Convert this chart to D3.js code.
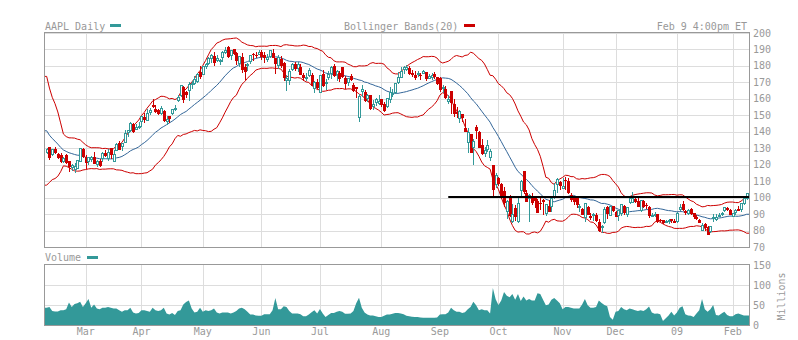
<!DOCTYPE html>
<html><head><meta charset="utf-8">
<script src="https://cdn.jsdelivr.net/npm/d3@7"></script>
<style>
body{margin:0;background:#fff}
svg{display:block}
text{font-family:"DejaVu Sans Mono",monospace;font-size:10px;fill:#999999}
</style>
</head><body>
<svg id="chart" width="798" height="340"></svg>
<script>
// ---------------- DATA ----------------
const firstDay = "2008-02-11";
const lastDay = "2009-02-09";
const holidays = ["2008-02-18","2008-03-21","2008-05-26","2008-07-04","2008-09-01","2008-11-27","2008-12-25","2009-01-01","2009-01-19"];
// closes of the 19 sessions before the first shown day (needed for the 20-day bands)
const priorCloses = [178.78,169.04,159.64,160.89,161.36,155.64,139.07,135.60,130.01,130.01,131.54,132.18,135.36,133.75,131.65,129.36,122.00,121.24,125.48];

const open = [
128.0,130.7,126.7,129.4,126.3,126.0,122.2,126.1,122.5,118.6,117.6,118.2,122.5,129.3,
124.4,122.0,123.6,124.6,120.4,122.0,124.1,127.0,124.1,129.9,122.1,129.2,133.1,131.1,134.0,140.0,140.9,145.0,141.8,143.3,
146.3,148.8,147.1,152.2,156.1,153.6,153.3,151.1,152.7,146.8,149.4,151.7,154.2,159.1,162.2,167.4,164.1,165.3,169.0,169.8,171.1,176.2,
175.0,180.2,181.9,184.7,186.1,183.8,183.2,185.2,188.6,191.2,186.8,190.1,187.9,181.8,185.7,179.3,180.8,182.8,187.4,186.8,187.5,
188.6,186.9,184.0,186.3,188.0,184.8,180.5,184.3,181.5,171.6,171.3,178.1,181.1,178.6,179.4,174.7,172.4,174.6,174.5,166.5,170.2,
164.2,175.2,169.6,173.2,175.4,180.2,174.9,175.5,179.2,172.5,170.5,174.1,168.5,166.9,149.0,165.0,164.3,160.4,162.3,155.4,157.8,157.5,
159.9,156.6,155.4,160.0,162.7,163.9,170.1,173.5,178.0,178.3,179.0,175.6,174.5,174.8,174.5,175.8,176.2,172.8,173.3,175.3,173.0,
172.4,166.8,165.9,158.6,164.6,156.9,152.3,148.2,150.9,142.0,133.9,138.5,130.6,142.6,139.9,131.9,127.3,129.8,124.9,119.6,108.3,
111.9,108.0,104.0,92.0,100.5,85.9,93.4,85.7,104.6,116.3,103.0,99.8,99.5,99.8,98.0,96.9,98.6,90.4,95.1,95.1,100.1,108.5,109.5,
105.9,111.0,110.0,101.8,100.3,100.4,94.1,93.3,88.5,94.3,89.0,89.5,89.5,85.2,82.0,85.2,94.0,89.6,94.8,
91.3,89.7,90.5,94.9,90.0,97.3,97.6,98.9,97.8,92.2,97.8,95.5,94.6,89.4,89.6,89.9,86.6,86.2,85.6,86.0,86.8,85.9,
85.9,93.2,96.0,91.8,90.4,93.2,90.5,88.2,86.3,80.6,84.2,81.9,79.8,88.0,86.8,88.9,90.0,92.3,93.6,92.7,
89.1,91.0,93.0,92.8,96.8,100.0];

const high = [
130.0,131.0,129.8,130.8,127.1,126.8,124.6,126.5,122.5,120.2,121.1,123.1,130.0,130.2,
126.0,124.9,125.1,127.5,123.0,123.2,127.5,128.7,129.5,130.3,128.8,133.0,134.3,133.3,140.9,141.2,145.7,145.3,144.7,145.7,
149.7,151.2,153.6,154.7,159.7,156.5,153.9,155.4,153.3,149.3,149.7,154.1,156.0,162.3,168.5,168.0,164.8,170.0,171.1,173.8,175.7,180.0,
180.0,181.9,185.3,187.1,188.2,186.5,184.3,188.9,191.5,192.2,189.9,190.3,188.7,186.2,188.0,181.3,182.0,186.5,188.0,188.2,189.5,
189.7,188.2,187.1,189.8,190.0,184.9,186.8,186.0,182.6,174.2,177.9,182.0,182.2,182.3,181.0,175.9,175.8,178.8,175.6,170.6,172.0,
174.7,177.5,172.2,177.1,179.7,180.9,177.3,177.1,179.3,173.7,172.9,175.0,169.7,167.5,162.8,168.4,165.3,163.0,162.5,159.5,160.5,162.2,
160.0,157.9,160.8,167.4,166.2,169.7,176.5,179.3,180.0,180.5,179.8,177.8,177.1,176.9,175.5,177.5,176.2,174.9,175.8,176.3,173.5,
173.5,168.7,167.9,162.4,164.9,160.0,155.0,153.0,150.9,147.7,142.5,138.5,135.4,144.2,140.3,135.8,131.0,134.8,129.8,119.7,115.0,
112.4,108.8,106.5,98.8,101.5,96.3,95.8,100.0,110.5,116.4,104.4,102.5,102.7,99.9,99.2,99.9,99.0,96.0,98.5,100.0,109.0,112.0,110.2,
111.8,112.4,111.7,102.8,100.4,100.9,96.2,93.5,96.5,95.0,90.4,90.5,90.5,86.9,83.5,94.5,95.0,95.2,95.0,
92.0,92.7,96.0,95.4,94.3,100.7,103.6,99.7,99.6,98.6,98.3,96.9,94.9,90.9,91.5,90.0,87.3,86.2,86.3,86.9,87.0,86.9,
91.0,96.2,98.0,92.5,93.0,93.4,90.9,89.5,86.8,84.3,84.6,82.6,82.9,90.0,89.9,90.9,91.4,94.5,94.3,93.1,
90.9,92.9,95.0,97.0,100.0,103.0];

const low = [
127.2,123.6,125.6,127.0,124.1,121.4,121.7,120.9,115.9,116.7,115.4,118.1,122.5,124.8,
118.0,120.4,122.3,120.8,119.1,119.1,122.0,125.2,123.0,124.2,122.0,128.7,129.6,129.2,133.6,137.4,140.6,140.0,141.6,142.5,
143.6,145.9,147.0,150.8,155.1,152.3,150.5,150.6,146.4,144.5,145.7,150.6,153.4,158.4,161.8,158.1,161.1,159.2,166.4,169.1,170.3,172.9,
174.9,178.6,181.1,182.2,180.5,183.1,181.4,182.9,187.9,185.6,184.2,187.0,181.3,180.1,176.3,172.0,177.8,181.8,183.7,185.5,187.4,
184.5,182.3,183.2,185.7,185.6,175.8,179.0,179.6,171.2,165.3,169.1,177.4,177.4,176.8,175.0,171.6,171.6,173.9,168.2,164.4,166.6,
164.0,168.1,165.8,171.9,172.7,174.1,171.4,171.0,173.1,166.4,168.6,171.4,165.0,161.1,146.5,161.6,158.5,158.7,154.0,153.7,156.1,157.0,
155.8,152.9,154.8,158.0,161.5,163.8,169.7,173.5,175.9,177.8,175.1,173.8,171.8,173.6,171.9,175.6,171.7,172.6,172.2,172.8,169.0,
165.0,164.0,160.8,157.7,151.5,149.8,148.8,146.0,146.5,140.3,127.6,127.8,120.7,136.3,130.7,126.7,125.2,128.5,123.0,100.6,106.3,
107.4,100.0,94.7,87.5,89.0,85.0,86.6,85.0,101.0,103.1,98.0,85.5,96.0,94.3,91.0,93.2,90.0,89.5,91.9,91.9,99.6,103.6,105.1,
105.9,105.5,103.1,98.1,96.0,94.5,92.0,90.0,86.0,90.0,87.0,86.3,86.0,80.0,79.1,84.6,87.5,89.5,91.9,
88.9,86.2,89.5,90.0,89.0,96.6,97.1,97.2,94.8,92.0,94.5,93.5,88.4,88.6,89.0,85.2,85.6,84.8,84.9,84.7,85.0,85.0,
85.2,92.7,92.2,90.3,90.0,90.1,87.9,86.8,84.9,80.1,80.1,78.2,79.3,86.0,86.5,88.6,89.6,91.6,92.4,89.9,
88.8,90.2,92.4,92.0,96.2,99.0];

const close = [
129.45,124.86,129.40,127.46,124.63,122.18,123.82,121.54,119.46,119.74,119.15,122.96,129.91,125.02,
121.73,124.62,124.49,120.93,122.25,119.69,127.35,126.03,127.94,126.61,126.73,132.82,129.67,133.27,139.53,140.98,145.06,140.25,143.01,143.50,
149.53,147.49,151.61,153.08,155.89,152.84,151.44,154.55,147.14,147.78,148.38,153.70,154.49,161.04,168.16,160.20,162.89,168.94,169.73,172.24,175.05,173.95,
180.00,180.94,184.73,186.66,182.59,185.06,183.45,188.16,189.96,186.26,189.73,187.62,183.60,185.90,178.19,177.05,181.17,186.43,187.01,186.69,188.75,
186.10,185.37,185.19,189.43,185.64,181.61,185.64,180.81,173.26,172.37,176.84,181.43,178.75,180.90,175.27,173.16,173.25,177.39,168.26,170.09,167.44,
174.68,168.18,170.12,175.16,179.55,174.25,176.63,172.58,173.88,169.64,172.81,171.81,165.15,166.29,162.02,166.26,159.03,162.12,154.40,157.08,159.88,158.95,
156.66,153.23,160.64,164.19,163.57,169.55,173.56,176.73,179.30,179.32,175.74,175.39,173.53,175.84,174.29,176.79,172.55,173.64,174.67,173.74,169.53,
166.19,166.96,161.22,160.18,157.92,151.68,151.61,152.65,148.94,140.36,139.88,127.83,134.09,140.91,131.05,126.84,128.71,131.93,128.24,105.26,113.66,
109.12,100.10,97.07,98.14,89.16,89.79,88.74,96.80,110.26,104.08,97.95,101.89,97.40,98.44,91.49,96.87,98.23,96.38,92.09,99.91,104.55,111.04,107.59,
106.96,110.99,103.30,99.10,98.24,95.88,94.77,90.12,96.44,90.24,88.14,89.91,86.29,80.49,82.58,92.95,90.80,95.00,92.67,
88.93,92.47,95.90,91.41,94.00,99.72,100.06,98.21,95.00,98.27,94.75,95.43,89.16,89.43,90.00,85.74,86.38,85.04,85.81,86.61,86.29,85.35,
90.75,94.58,93.02,91.01,92.70,90.58,88.66,87.71,85.33,83.38,82.33,78.20,82.83,88.36,88.36,89.64,90.73,94.20,93.00,90.13,
90.76,92.77,92.68,96.46,99.72,102.51];

// volume, millions of shares
const volume = [
44,46,36,35,35,38,38,40,57,46,53,55,59,46,
55,66,44,52,42,40,44,44,46,44,42,42,38,34,38,38,44,32,30,31,
38,38,36,34,44,38,36,38,44,30,27,31,26,36,38,52,58,62,42,32,34,44,
34,38,36,38,42,32,30,32,32,32,30,32,36,42,44,40,34,27,27,25,24,
24,28,28,28,38,68,40,40,48,46,36,30,30,30,28,23,23,27,33,38,30,
41,30,21,26,31,31,34,36,34,29,29,30,36,55,69,44,32,27,25,25,23,21,
21,24,27,27,29,31,31,30,28,24,23,22,21,21,20,19,19,19,19,19,20,
27,28,28,32,44,38,34,34,31,33,40,46,59,50,38,40,38,38,30,93,65,
51,62,83,74,70,78,64,78,61,72,62,66,62,62,80,78,64,50,52,64,68,62,55,
40,46,46,44,42,42,42,52,66,50,44,44,46,62,56,51,48,21,14,
34,36,46,40,38,42,40,38,36,38,36,40,47,32,29,30,28,11,18,25,34,25,
32,44,48,28,25,24,21,30,38,66,40,34,40,51,26,25,30,34,26,23,
23,28,30,27,25,25];

const priceTicks = [200,190,180,170,160,150,140,130,120,110,100,90,80,70];
const volumeTicks = [150,100,50,0];
const monthLabels = ["Mar","Apr","May","Jun","Jul","Aug","Sep","Oct","Nov","Dec","09","Feb"];
const trendLine = {from:"2008-09-05", value:100.3};
const bandPeriod = 20;

// ---------------- BUILD ----------------
const parse = d3.utcParse("%Y-%m-%d");
const fmt = d3.utcFormat("%Y-%m-%d");
const holidaySet = new Set(holidays);
const dates = d3.utcDay.range(parse(firstDay), d3.utcDay.offset(parse(lastDay),1))
  .filter(d => d.getUTCDay() > 0 && d.getUTCDay() < 6 && !holidaySet.has(fmt(d)));

const data = dates.map((d,i) => ({i, date:d, o:open[i], h:high[i], l:low[i], c:close[i], v:volume[i]}));
const allClose = priorCloses.concat(close);
data.forEach((d,i) => {
  const win = allClose.slice(i, i + bandPeriod);
  const m = d3.mean(win);
  const sd = Math.sqrt(d3.mean(win, v => (v-m)*(v-m)));
  d.mid = m; d.up = m + 2*sd; d.dn = m - 2*sd;
});

const C = {teal:"#339999", red:"#cc0000", blue:"#336699", grid:"#dddddd", frame:"#999999"};
const L = 44, R = 749;
const mainTop = 32, mainBot = 247;
const volTop = 264, volBot = 325;

const svg = d3.select("#chart");
const N = data.length;
const x = d3.scaleLinear().domain([0, N-1]).range([46.66, 746.65]);
const y = d3.scaleLinear().domain([70,200]).range([247, 33]);
const yv = d3.scaleLinear().domain([0,150]).range([325.5, 265]);

const defs = svg.append("defs");
defs.append("clipPath").attr("id","clipMain").append("rect").attr("x",L).attr("y",mainTop).attr("width",R-L).attr("height",mainBot-mainTop);
defs.append("clipPath").attr("id","clipVol").append("rect").attr("x",L).attr("y",volTop).attr("width",R-L).attr("height",volBot-volTop);

const monthIdx = data.filter((d,i) => i>0 && d.date.getUTCMonth() !== data[i-1].date.getUTCMonth()).map(d => d.i);
const px = v => Math.round(v) + 0.5;

// grid main
const gMain = svg.append("g");
gMain.selectAll(".hg").data(priceTicks).join("line")
  .attr("x1",L).attr("x2",R).attr("y1",d=>px(y(d))).attr("y2",d=>px(y(d)))
  .attr("stroke",C.grid);
gMain.selectAll(".vg").data(monthIdx).join("line")
  .attr("x1",d=>px(x(d))).attr("x2",d=>px(x(d))).attr("y1",mainTop).attr("y2",mainBot)
  .attr("stroke",C.grid);

// grid volume
const gVol = svg.append("g");
gVol.selectAll(".hg").data(volumeTicks.filter(t=>t>0 && t<150)).join("line")
  .attr("x1",L).attr("x2",R).attr("y1",d=>px(yv(d))).attr("y2",d=>px(yv(d)))
  .attr("stroke",C.grid);
gVol.selectAll(".vg").data(monthIdx).join("line")
  .attr("x1",d=>px(x(d))).attr("x2",d=>px(x(d))).attr("y1",volTop).attr("y2",volBot)
  .attr("stroke",C.grid);

// bands (extended to the panel edges with the end values)
const ext = [Object.assign({}, data[0], {i: x.invert(L)})].concat(data, [Object.assign({}, data[N-1], {i: x.invert(R)})]);
const plot = svg.append("g").attr("clip-path","url(#clipMain)");
const lineOf = key => d3.line().x(d=>x(d.i)).y(d=>y(d[key]));
plot.append("path").attr("d", lineOf("up")(ext)).attr("fill","none").attr("stroke",C.red).attr("stroke-width",1);
plot.append("path").attr("d", lineOf("dn")(ext)).attr("fill","none").attr("stroke",C.red).attr("stroke-width",1);
plot.append("path").attr("d", lineOf("mid")(ext)).attr("fill","none").attr("stroke",C.blue).attr("stroke-width",1);

// candles
const cg = plot.append("g");
data.forEach(d => {
  const cx = Math.round(x(d.i));
  const up = d.c >= d.o;
  const col = up ? C.teal : C.red;
  cg.append("line").attr("x1",cx+0.5).attr("x2",cx+0.5)
    .attr("y1",Math.round(y(d.h))).attr("y2",Math.round(y(d.l))+1)
    .attr("stroke",col).attr("stroke-width",1);
  const top = Math.round(y(Math.max(d.o,d.c)));
  const bot = Math.round(y(Math.min(d.o,d.c)));
  if (up) {
    cg.append("rect").attr("x",cx-0.5).attr("y",top+0.5).attr("width",2).attr("height",Math.max(1,bot-top))
      .attr("fill","#fff").attr("stroke",col).attr("stroke-width",1);
  } else {
    cg.append("rect").attr("x",cx-1).attr("y",top).attr("width",3).attr("height",Math.max(1,bot-top+1))
      .attr("fill",col);
  }
});

// horizontal reference line
const tIdx = data.findIndex(d => fmt(d.date) === trendLine.from);
plot.append("line").attr("x1",x(tIdx)).attr("x2",R).attr("y1",y(trendLine.value)).attr("y2",y(trendLine.value))
  .attr("stroke","#000").attr("stroke-width",2);

// volume area
const vplot = svg.append("g").attr("clip-path","url(#clipVol)");
vplot.append("path").attr("d", d3.area().x(d=>x(d.i)).y0(yv(0)).y1(d=>yv(d.v))(ext)).attr("fill",C.teal);

// frames
svg.append("rect").attr("x",L+0.5).attr("y",mainTop+0.5).attr("width",R-L).attr("height",mainBot-mainTop)
  .attr("fill","none").attr("stroke",C.frame);
svg.append("rect").attr("x",L+0.5).attr("y",volTop+0.5).attr("width",R-L).attr("height",volBot-volTop)
  .attr("fill","none").attr("stroke",C.frame);

// right axis labels
svg.append("g").selectAll("text").data(priceTicks).join("text")
  .attr("x",753).attr("y",d=>y(d)).attr("dy","0.35em").text(d=>d);
svg.append("g").selectAll("text").data(volumeTicks).join("text")
  .attr("x",753).attr("y",d=>yv(d)).attr("dy","0.35em").text(d=>d);
svg.append("text").attr("transform","translate(785,296.5) rotate(-90)").attr("text-anchor","middle").text("Millions");

// month labels
svg.append("g").selectAll("text").data(monthIdx).join("text")
  .attr("x",d=>x(d)).attr("y",335).attr("text-anchor","middle").text((d,k)=>monthLabels[k]);

// headers & legends
svg.append("text").attr("x",45).attr("y",29.5).text("AAPL Daily");
svg.append("rect").attr("x",110).attr("y",24).attr("width",11).attr("height",3).attr("fill",C.teal);
svg.append("text").attr("x",344).attr("y",29.5).text("Bollinger Bands(20)");
svg.append("rect").attr("x",464).attr("y",24).attr("width",11).attr("height",3).attr("fill",C.red);
svg.append("text").attr("x",747).attr("y",29.5).attr("text-anchor","end").text("Feb 9 4:00pm ET");
svg.append("text").attr("x",45).attr("y",261).text("Volume");
svg.append("rect").attr("x",87).attr("y",256).attr("width",11).attr("height",3).attr("fill",C.teal);
</script>
</body></html>
